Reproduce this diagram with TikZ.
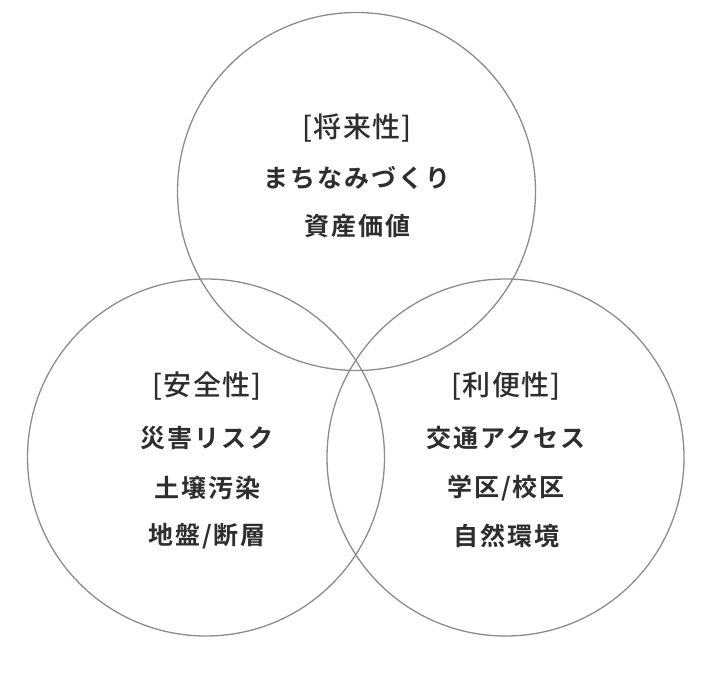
\documentclass[tikz,border=0pt]{standalone}
\usepackage{fontspec}
\setmainfont{Noto Sans CJK JP}[BoldFont={Noto Sans CJK JP Bold}]
\newfontfamily\titlefont{Noto Sans CJK JP Medium}[LetterSpace=5]
\newfontfamily\itemfont{Noto Sans CJK JP Bold}[LetterSpace=8]
\definecolor{ringgray}{HTML}{8C8C8C}
\definecolor{textgray}{HTML}{2E2E2E}
\tikzset{
  ring/.style={draw=ringgray, line width=1.3pt},
  heading/.style={font=\titlefont\fontsize{28}{32}\selectfont, text=textgray, inner sep=0pt, anchor=center},
  item/.style={font=\itemfont\fontsize{25}{29}\selectfont, text=textgray, inner sep=0pt, anchor=center}
}
\begin{document}
\begin{tikzpicture}[x=1pt,y=-1pt]
\useasboundingbox (0,0) rectangle (702,680);
\draw[ring] (356.5,191.5) circle (179);
\draw[ring] (206,457.5) circle (178.5);
\draw[ring] (505.5,457.5) circle (178.5);
\node[heading] (t1) at (357,128) {[将来性]};
\node[item] (t2) at (357,178) {まちなみづくり};
\node[item] (t3) at (357,226) {資産価値};
\node[heading] (l1) at (207,386) {[安全性]};
\node[item] (l2) at (207,438) {災害リスク};
\node[item] (l3) at (207,488) {土壌汚染};
\node[item] (l4) at (207,536) {地盤/断層};
\node[heading] (r1) at (506,386) {[利便性]};
\node[item] (r2) at (506,438) {交通アクセス};
\node[item] (r3) at (506,488) {学区/校区};
\node[item] (r4) at (506,536) {自然環境};
\end{tikzpicture}
\end{document}
